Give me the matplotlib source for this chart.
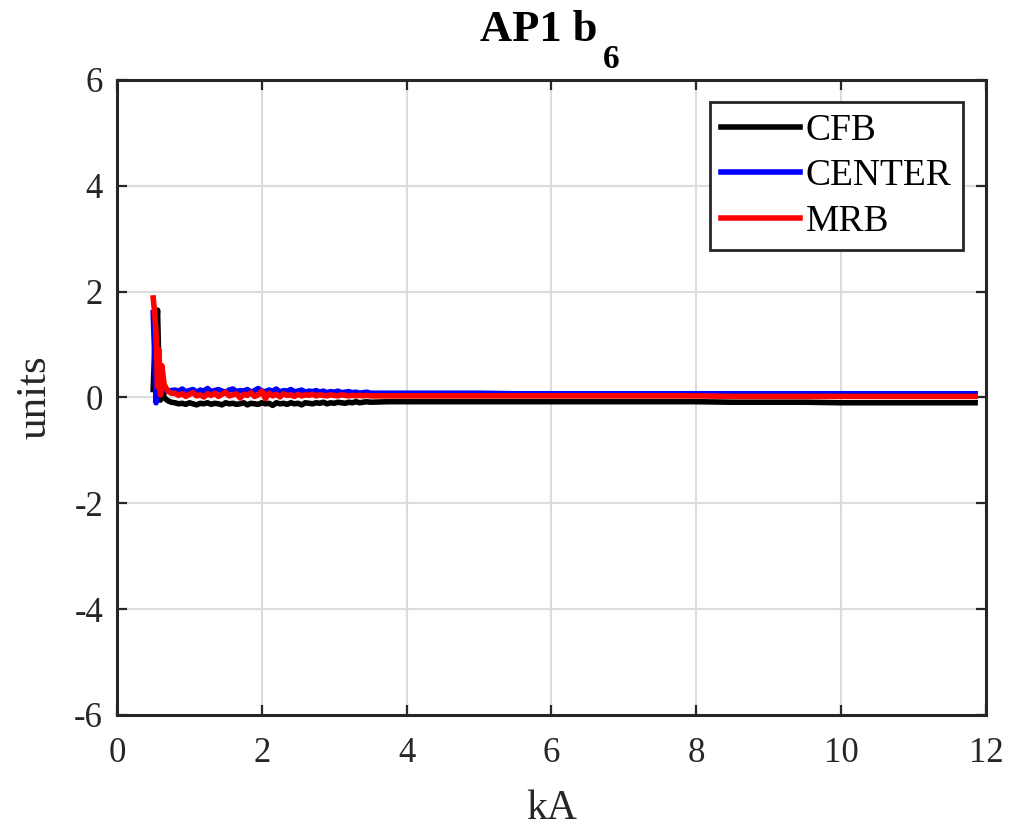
import numpy as np
import matplotlib
matplotlib.use("Agg")
import matplotlib.pyplot as plt

plt.rcParams['font.family'] = ['Liberation Serif', 'DejaVu Serif']
plt.rcParams['axes.unicode_minus'] = False

# current (kA) sample points
ka_head = [0.50, 0.52, 0.54, 0.56, 0.58, 0.60, 0.62, 0.65, 0.70, 0.75]
ka_mid = [0.80, 0.85, 0.90, 0.95, 1.00, 1.05, 1.10, 1.15, 1.20, 1.25,
          1.30, 1.35, 1.40, 1.45, 1.50, 1.55, 1.60, 1.65, 1.70, 1.75,
          1.80, 1.85, 1.90, 1.95, 2.00, 2.05, 2.10, 2.15, 2.20, 2.25,
          2.30, 2.35, 2.40, 2.45, 2.50, 2.55, 2.60, 2.65, 2.70, 2.75,
          2.80, 2.85, 2.90, 2.95, 3.00, 3.05, 3.10, 3.15, 3.20, 3.25,
          3.30, 3.35, 3.40, 3.45, 3.50]
ka_tail = [3.75, 4.0, 4.5, 5.0, 5.5, 6.0, 6.5, 7.0, 7.5, 8.0,
           8.5, 9.0, 9.5, 10.0, 10.5, 11.0, 11.5, 11.85]

# CFB
cfb_head = [0.15, 0.90, 1.20, 1.65, 0.50, -0.05, 0.30, 0.00, -0.06, -0.09]
cfb_mid = [-0.10, -0.12, -0.11, -0.13, -0.10, -0.12, -0.14, -0.11, -0.12, -0.10,
           -0.13, -0.11, -0.12, -0.14, -0.10, -0.12, -0.11, -0.13, -0.12, -0.10,
           -0.14, -0.11, -0.12, -0.13, -0.10, -0.12, -0.11, -0.15, -0.10, -0.12,
           -0.11, -0.13, -0.10, -0.12, -0.11, -0.14, -0.10, -0.11, -0.12, -0.10,
           -0.11, -0.09, -0.12, -0.10, -0.11, -0.09, -0.10, -0.11, -0.09, -0.10,
           -0.08, -0.10, -0.09, -0.08, -0.09]
cfb_tail = [-0.08, -0.08, -0.08, -0.08, -0.08, -0.08, -0.08, -0.08, -0.08, -0.08,
            -0.09, -0.09, -0.09, -0.10, -0.10, -0.10, -0.10, -0.10]

# CENTER
center_head = [1.60, 0.80, -0.10, 0.60, 0.20, 0.05, 0.25, 0.15, 0.12, 0.13]
center_mid = [0.14, 0.12, 0.16, 0.11, 0.13, 0.15, 0.10, 0.14, 0.12, 0.17,
              0.11, 0.13, 0.15, 0.12, 0.10, 0.14, 0.16, 0.11, 0.13, 0.12,
              0.15, 0.10, 0.13, 0.17, 0.12, 0.11, 0.14, 0.12, 0.16, 0.10,
              0.13, 0.12, 0.15, 0.11, 0.12, 0.14, 0.10, 0.12, 0.11, 0.13,
              0.10, 0.12, 0.09, 0.11, 0.10, 0.12, 0.09, 0.10, 0.11, 0.09,
              0.10, 0.08, 0.09, 0.10, 0.08]
center_tail = [0.08, 0.08, 0.08, 0.08, 0.07, 0.07, 0.07, 0.07, 0.07, 0.07,
               0.07, 0.07, 0.07, 0.07, 0.07, 0.07, 0.07, 0.07]

# MRB
mrb_head = [1.88, 1.60, 1.20, 0.20, 0.90, 0.05, 0.60, 0.25, 0.12, 0.08]
mrb_mid = [0.08, 0.04, 0.07, 0.02, 0.06, 0.09, 0.03, 0.05, 0.01, 0.07,
           0.04, 0.08, 0.02, 0.06, 0.10, 0.03, 0.05, 0.07, -0.01, 0.06,
           0.04, 0.09, 0.02, 0.05, 0.12, -0.02, 0.08, 0.03, 0.06, 0.01,
           0.07, 0.04, 0.05, 0.02, 0.06, 0.03, 0.05, 0.04, 0.06, 0.03,
           0.05, 0.04, 0.03, 0.05, 0.04, 0.03, 0.05, 0.04, 0.03, 0.04,
           0.03, 0.04, 0.03, 0.04, 0.03]
mrb_tail = [0.03, 0.03, 0.03, 0.03, 0.03, 0.03, 0.03, 0.03, 0.03, 0.03,
            0.02, 0.02, 0.02, 0.02, 0.02, 0.02, 0.02, 0.02]

ka = ka_head + ka_mid + ka_tail
series = [
    ("CFB", cfb_head + cfb_mid + cfb_tail, "black"),
    ("CENTER", center_head + center_mid + center_tail, "#0000ff"),
    ("MRB", mrb_head + mrb_mid + mrb_tail, "#ff0000"),
]

fig = plt.figure(figsize=(10.12, 8.33), dpi=100)
ax = fig.add_axes([0.1156, 0.1417, 0.8587, 0.7623])

for name, vals, col in series:
    ax.plot(ka, vals, color=col, lw=4.0, label=name, solid_joinstyle='round')

ax.set_xlim(0, 12)
ax.set_ylim(-6, 6)
ax.set_xticks([0, 2, 4, 6, 8, 10, 12])
ax.set_yticks([-6, -4, -2, 0, 2, 4, 6])
ax.grid(True, color='#dcdcdc', lw=1.5)
ax.set_axisbelow(True)

for s in ax.spines.values():
    s.set_color('#262626')
    s.set_linewidth(2.2)
ax.tick_params(direction='in', length=7, width=1.6, colors='#262626',
               top=True, right=True, labelsize=25)
ax.tick_params(axis='x', pad=16)
ax.tick_params(axis='y', pad=10)

ax.set_xlabel('kA', fontsize=30, color='#262626', labelpad=14)
ax.set_ylabel('units', fontsize=31, color='#262626', labelpad=14)

# title with a low-set MATLAB style subscript
t = ax.text(0.553, 1.062, 'AP1 b', transform=ax.transAxes, ha='right',
            va='baseline', fontsize=32, fontweight='bold', color='black')
ax.text(0.559, 1.019, '6', transform=ax.transAxes, ha='left',
        va='baseline', fontsize=24, fontweight='bold', color='black')

leg = ax.legend(loc='upper right', bbox_to_anchor=(0.9735, 0.9654), fontsize=27,
                fancybox=False, framealpha=1, edgecolor='#262626',
                handlelength=2.1, handletextpad=0.16, borderpad=0.3,
                labelspacing=0.3, borderaxespad=0)
leg.get_frame().set_linewidth(2.0)
for ln in leg.get_lines():
    ln.set_linewidth(4.0)

fig.savefig('out.png', dpi=100)
